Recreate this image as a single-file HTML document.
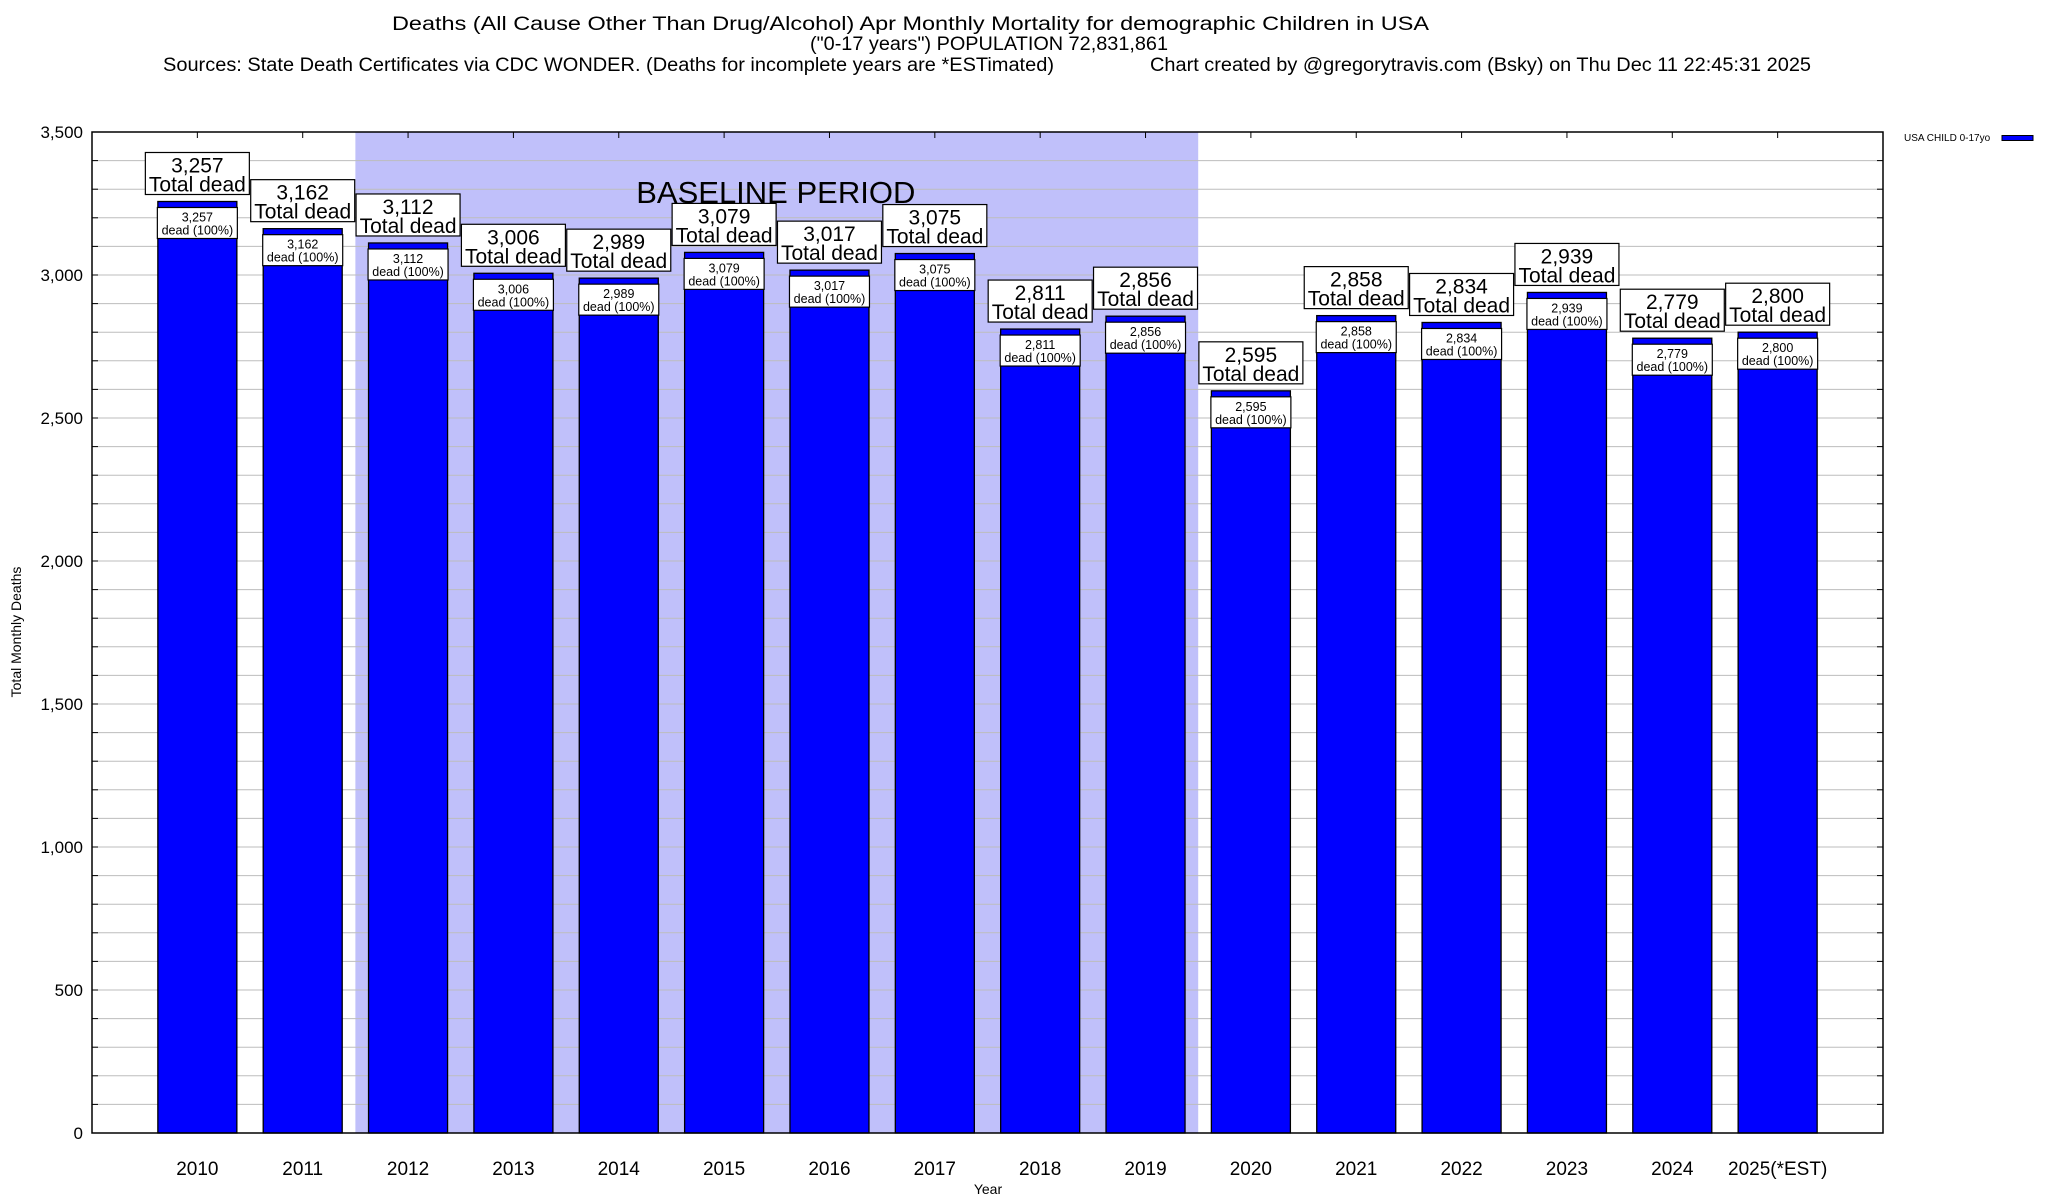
<!DOCTYPE html>
<html><head><meta charset="utf-8"><style>
html,body{margin:0;padding:0;background:#fff;}
svg{display:block;font-family:"Liberation Sans",Arial,sans-serif;}
</style></head><body>
<svg id="chart" width="2048" height="1200" viewBox="0 0 2048 1200" xmlns="http://www.w3.org/2000/svg">
<rect width="2048" height="1200" fill="#fff"/>
<g font-size="19" fill="#000">
<text x="392" y="30" textLength="1037" lengthAdjust="spacingAndGlyphs">Deaths (All Cause Other Than Drug/Alcohol) Apr Monthly Mortality for demographic Children in USA</text>
<text x="810" y="50" textLength="358" lengthAdjust="spacingAndGlyphs">("0-17 years") POPULATION 72,831,861</text>
<text x="163" y="71" textLength="891" lengthAdjust="spacingAndGlyphs">Sources: State Death Certificates via CDC WONDER. (Deaths for incomplete years are *ESTimated)</text>
<text x="1150" y="71" textLength="661" lengthAdjust="spacingAndGlyphs">Chart created by @gregorytravis.com (Bsky) on Thu Dec 11 22:45:31 2025</text>
</g>
<g id="plot"></g>
</svg>
<script>
const years = ["2010","2011","2012","2013","2014","2015","2016","2017","2018","2019","2020","2021","2022","2023","2024","2025(*EST)"];
const deaths = [3257,3162,3112,3006,2989,3079,3017,3075,2811,2856,2595,2858,2834,2939,2779,2800];
const yTicks = [0,500,1000,1500,2000,2500,3000,3500];
const yTickLabels = ["0","500","1,000","1,500","2,000","2,500","3,000","3,500"];
const baselineStart = 2, baselineEnd = 9;

const NS = "http://www.w3.org/2000/svg";
const L = 92, R = 1883, T = 132, B = 1133;
const yMax = 3500;
const pitch = (R - L) / 17;
function xPos(i){ return L + (i + 1) * pitch; }
function yPos(v){ return B - v / yMax * (B - T); }
function fmt(v){ return v.toLocaleString("en-US"); }
const g = document.getElementById("plot");
function el(tag, attrs, parent){
  const e = document.createElementNS(NS, tag);
  for (const k in attrs) e.setAttribute(k, attrs[k]);
  (parent || g).appendChild(e);
  return e;
}

// baseline shading
const bs = el("rect", {x: xPos(baselineStart) - pitch/2, y: T, width: (baselineEnd - baselineStart + 1) * pitch, height: B - T, fill: "#c0c0fa"});



// grid lines every 100
for (let v = 100; v < yMax; v += 100) {
  const ln = el("line", {x1: L, x2: R, y1: yPos(v), y2: yPos(v), stroke: "#bdbdbd", "stroke-width": 1});
  
  
  const t1 = el("line", {x1: L, x2: L + 6, y1: yPos(v), y2: yPos(v), stroke: "#000"});
  
  
  const t2 = el("line", {x1: R - 6, x2: R, y1: yPos(v), y2: yPos(v), stroke: "#000"});
  
  
}

const bt = el("text", {x: xPos(5.5) - 1, y: 203, "font-size": 31, "text-anchor": "middle", fill: "#000"});
bt.textContent = "BASELINE PERIOD";



// y ticks labels
yTicks.forEach((v, i) => {
  const t = el("text", {x: 83, y: yPos(v) + 6, "font-size": 17, "text-anchor": "end", fill: "#000"});
  t.textContent = yTickLabels[i];
  
  
});

// bars
const bw = pitch * 0.75;
deaths.forEach((v, i) => {
  const cx = xPos(i), top = yPos(v);
  const bar = el("rect", {x: cx - bw/2, y: top, width: bw, height: B - top, fill: "#0000ff", stroke: "#000", "stroke-width": 1.3});
  
  
  // inner label
  const ib = el("rect", {x: cx - 40, y: top + 6, width: 80, height: 31, fill: "#fff", stroke: "#000", "stroke-width": 1.2});
  
  
  const it1 = el("text", {x: cx, y: top + 20, "font-size": 12.5, "text-anchor": "middle", fill: "#000"});
  it1.textContent = fmt(v);
  
  
  const it2 = el("text", {x: cx, y: top + 33, "font-size": 12.5, "text-anchor": "middle", fill: "#000"});
  it2.textContent = "dead (100%)";
  
  
  // top label
  const tb = el("rect", {x: cx - 52, y: top - 49, width: 104, height: 42, fill: "#fff", stroke: "#000", "stroke-width": 1.2});
  
  
  const tt1 = el("text", {x: cx, y: top - 29, "font-size": 21, "text-anchor": "middle", fill: "#000"});
  tt1.textContent = fmt(v);
  
  
  const tt2 = el("text", {x: cx, y: top - 10, "font-size": 21, "text-anchor": "middle", fill: "#000"});
  tt2.textContent = "Total dead";
  
  
  // top tick and x label
  const tk = el("line", {x1: cx, x2: cx, y1: T, y2: T + 6, stroke: "#000"});
  
  
  const xl = el("text", {x: cx, y: 1175, "font-size": 19, "text-anchor": "middle", fill: "#000"});
  xl.textContent = years[i];
  
  
});

// frame
const fr = el("rect", {x: L, y: T, width: R - L, height: B - T, fill: "none", stroke: "#000", "stroke-width": 1.5});



const yt = el("text", {transform: "translate(21,632) rotate(-90)", "font-size": 14, "text-anchor": "middle", fill: "#000"});
yt.textContent = "Total Monthly Deaths";


const xt = el("text", {x: 988, y: 1194, "font-size": 14, "text-anchor": "middle", fill: "#000"});
xt.textContent = "Year";



const lg = el("text", {x: 1904, y: 141, "font-size": 10, fill: "#000"});
lg.textContent = "USA CHILD 0-17yo";


const ls = el("rect", {x: 2002, y: 135.5, width: 31, height: 5, fill: "#0000ff", stroke: "#000", "stroke-width": 1});


</script>
</body></html>
